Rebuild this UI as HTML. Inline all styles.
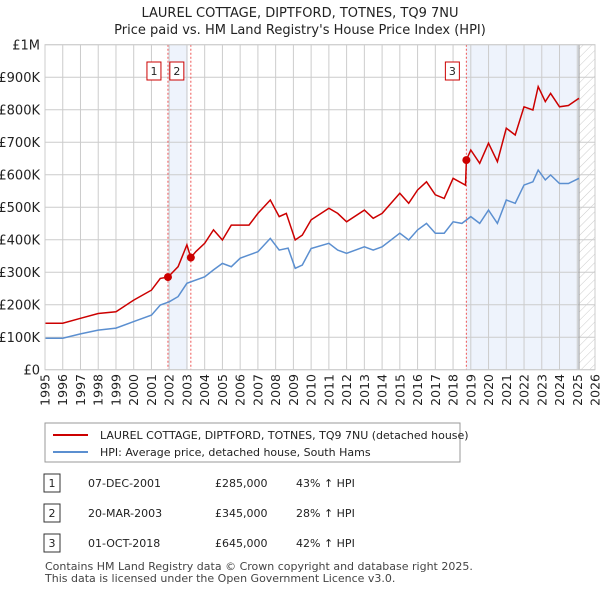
<!DOCTYPE html>
<html><head><meta charset="utf-8"><style>
body{margin:0;background:#fff;font-family:"Liberation Sans","DejaVu Sans",sans-serif;}
svg text{font-family:"DejaVu Sans","Liberation Sans",sans-serif;}
</style></head><body>
<svg id="chart" width="600" height="590" xmlns="http://www.w3.org/2000/svg">
<defs><pattern id="hatch" width="6" height="6" patternUnits="userSpaceOnUse" patternTransform="rotate(45)"><line x1="0" y1="0" x2="0" y2="6" stroke="#ccc" stroke-width="1"/></pattern></defs>
<text x="300" y="17" text-anchor="middle" font-size="13" fill="#222">LAUREL COTTAGE, DIPTFORD, TOTNES, TQ9 7NU</text>
<text x="300" y="34" text-anchor="middle" font-size="13" fill="#222">Price paid vs. HM Land Registry's House Price Index (HPI)</text>
<g id="plot"></g>
<g>
<rect x="45" y="423" width="415" height="39" fill="#fff" stroke="#999"/>
<line x1="53" y1="435" x2="88" y2="435" stroke="#cc0000" stroke-width="2"/>
<text x="100" y="439" font-size="11" fill="#222">LAUREL COTTAGE, DIPTFORD, TOTNES, TQ9 7NU (detached house)</text>
<line x1="53" y1="452" x2="88" y2="452" stroke="#5b8fd0" stroke-width="2"/>
<text x="100" y="456" font-size="11" fill="#222">HPI: Average price, detached house, South Hams</text>
</g>
<g font-size="11" fill="#222">
<rect x="44" y="474" width="16" height="18" fill="#fff" stroke="#333"/><text x="52" y="487" text-anchor="middle">1</text>
<text x="88" y="487">07-DEC-2001</text><text x="215" y="487">£285,000</text><text x="296" y="487">43% ↑ HPI</text>
<rect x="44" y="504" width="16" height="18" fill="#fff" stroke="#333"/><text x="52" y="517" text-anchor="middle">2</text>
<text x="88" y="517">20-MAR-2003</text><text x="215" y="517">£345,000</text><text x="296" y="517">28% ↑ HPI</text>
<rect x="44" y="534" width="16" height="18" fill="#fff" stroke="#333"/><text x="52" y="547" text-anchor="middle">3</text>
<text x="88" y="547">01-OCT-2018</text><text x="215" y="547">£645,000</text><text x="296" y="547">42% ↑ HPI</text>
</g>
<text x="45" y="570" font-size="11" fill="#444">Contains HM Land Registry data © Crown copyright and database right 2025.</text>
<text x="45" y="582" font-size="11" fill="#444">This data is licensed under the Open Government Licence v3.0.</text>
</svg>
<script>
const hpiYears=[1995,1996,1997,1998,1999,2000,2001,2001.5,2002,2002.5,2003,2004,2004.5,2005,2005.5,2006,2007,2007.7,2008.2,2008.7,2009.1,2009.5,2010,2011,2011.5,2012,2013,2013.5,2014,2015,2015.5,2016,2016.5,2017,2017.5,2018,2018.5,2019,2019.5,2020,2020.5,2021,2021.5,2022,2022.5,2022.8,2023.2,2023.5,2024,2024.5,2025.1];
const hpiValues=[97,97,110,122,128,148,168,199,209,225,266,286,307,327,317,343,363,404,368,374,312,322,373,389,368,358,378,368,378,420,399,430,450,420,420,455,450,471,450,491,450,522,512,568,578,614,584,599,573,573,589];
const priceYears=[1995,1996,1997,1998,1999,2000,2001,2001.5,2001.93,2002.5,2003,2003.22,2003.5,2004,2004.5,2005,2005.5,2006.5,2007,2007.7,2008.2,2008.6,2009.1,2009.5,2010,2011,2011.5,2012,2013,2013.5,2014,2015,2015.5,2016,2016.5,2017,2017.5,2018,2018.7,2018.75,2019,2019.5,2020,2020.5,2021,2021.5,2022,2022.5,2022.8,2023.2,2023.5,2024,2024.5,2025.1];
const priceValues=[143,143,158,173,178,214,245,281,285,317,384,345,363,389,430,399,445,445,481,522,471,481,399,414,461,497,481,455,491,466,481,543,512,553,578,538,527,589,568,645,676,635,697,640,743,722,809,799,871,825,850,809,813,835];
const saleYears=[2001.93,2003.22,2018.75];
const saleValues=[285,345,645];
const saleLabels=["1","2","3"];
const yTicks=[0,100,200,300,400,500,600,700,800,900,1000];
const yTickLabels=["£0","£100K","£200K","£300K","£400K","£500K","£600K","£700K","£800K","£900K","£1M"];
const xTicks=[1995,1996,1997,1998,1999,2000,2001,2002,2003,2004,2005,2006,2007,2008,2009,2010,2011,2012,2013,2014,2015,2016,2017,2018,2019,2020,2021,2022,2023,2024,2025,2026];

const L=45,R=595,T=44.7,B=369.7;
const x=v=>L+(v-1995)*(R-L)/31;
const y=v=>B-v*(B-T)/1000;
const NS="http://www.w3.org/2000/svg";
const g=document.getElementById('plot');
function mk(tag,attrs){const e=document.createElementNS(NS,tag);for(const k in attrs)e.setAttribute(k,attrs[k]);g.appendChild(e);return e;}
let e;
e=mk('rect',{x:x(saleYears[0]),y:T,width:x(2003.05)-x(saleYears[0]),height:B-T,fill:'#eef3fc'});


e=mk('rect',{x:x(saleYears[2]),y:T,width:x(2025.1)-x(saleYears[2]),height:B-T,fill:'#eef3fc'});


e=mk('rect',{x:x(2025.1),y:T,width:R-x(2025.1),height:B-T,fill:'url(#hatch)'});


yTicks.forEach((t,i)=>{
 e=mk('line',{x1:L,x2:R,y1:y(t),y2:y(t),stroke:'#ccc'});
 
 
 e=mk('text',{x:L-5,y:y(t)+5,'text-anchor':'end','font-size':13,fill:'#222'});
 e.textContent=yTickLabels[i];
 
 
});
xTicks.forEach(t=>{
 e=mk('line',{x1:x(t),x2:x(t),y1:T,y2:B,stroke:'#ccc'});
 
 
 const tx=x(t)+4.5, ty=374;
 e=mk('text',{x:tx,y:ty,'text-anchor':'end','font-size':12.5,fill:'#222',transform:'rotate(-90 '+tx+' '+ty+')'});
 e.textContent=t;
 
 
});
e=mk('line',{x1:x(2025.1),x2:x(2025.1),y1:T,y2:B,stroke:'#999'});


saleYears.forEach((s,i)=>{
 e=mk('line',{x1:x(s),x2:x(s),y1:T,y2:B,stroke:'#e55','stroke-dasharray':'2,2'});
 
 
 e=mk('rect',{x:x(s)-21,y:62,width:14,height:18,fill:'#fff',stroke:'#cc0000'});
 
 
 e=mk('text',{x:x(s)-14,y:75,'text-anchor':'middle','font-size':11,fill:'#222'});
 e.textContent=saleLabels[i];
 
 
});
function line(xs,vs,col,name){
 const d=xs.map((t,i)=>(i?'L':'M')+x(t).toFixed(1)+','+y(vs[i]).toFixed(1)).join('');
 e=mk('path',{d:d,fill:'none',stroke:col,'stroke-width':1.5});
 
 
}
line(hpiYears,hpiValues,'#5b8fd0','hpi-line');
line(priceYears,priceValues,'#cc0000','price-line');
saleYears.forEach((s,i)=>{
 e=mk('circle',{cx:x(s),cy:y(saleValues[i]),r:4,fill:'#cc0000'});
 
 
});
e=mk('rect',{x:L,y:T,width:R-L,height:B-T,fill:'none',stroke:'#ccc'});


</script>
</body></html>
